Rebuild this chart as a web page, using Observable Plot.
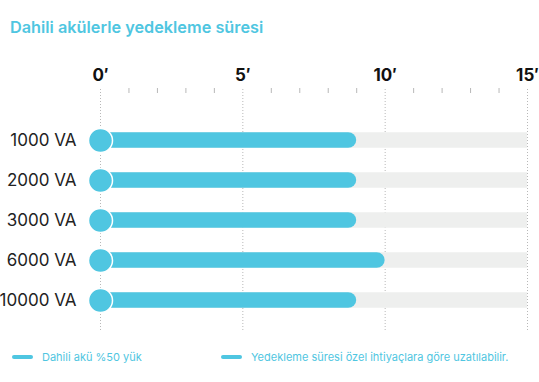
<!DOCTYPE html>
<html>
<head>
<meta charset="utf-8">
<script src="https://cdn.jsdelivr.net/npm/d3@7"></script>
<script src="https://cdn.jsdelivr.net/npm/@observablehq/plot@0.6"></script>
<style>
  body { margin: 0; background: #fff; font-family: Inter, "Open Sans", sans-serif; }
  #wrap { position: relative; width: 539px; height: 382px; overflow: hidden; }
  #title { height: 50px; box-sizing: border-box; padding: 17px 0 0 10px; font-size: 16.3px; font-weight: 600; color: #4fc6e1; line-height: 20px; }
  #legend { position: relative; height: 42px; font-size: 11px; color: #4fc6e1; }
  .item { position: absolute; top: 10px; display: flex; align-items: center; height: 14px; }
  .swatch { width: 21px; height: 4px; border-radius: 2px; background: #4fc6e1; margin-right: 9px; }
</style>
</head>
<body>
<div id="wrap">
  <div id="title">Dahili akülerle yedekleme süresi</div>
  <div id="chart"></div>
  <div id="legend"></div>
</div>
<script>
const categories = ["1000 VA", "2000 VA", "3000 VA", "6000 VA", "10000 VA"];
const durations = [9, 9, 9, 10, 9];
const maxDuration = 15;
const majorTicks = [0, 5, 10, 15];
const minorTicks = [1, 2, 3, 4, 6, 7, 8, 9, 11, 12, 13, 14];
const legendLabels = ["Dahili akü %50 yük", "Yedekleme süresi özel ihtiyaçlara göre uzatılabilir."];

const blue = "#4fc6e1";
const rows = categories.map((c, i) => ({ cat: c, value: durations[i], max: maxDuration }));

const H = 290, mTop = 68.5, mBottom = 19;
const bandInset = (((H - mTop - mBottom) / categories.length) - 16) / 2;

const chart = Plot.plot({
  width: 539,
  height: H,
  marginTop: mTop,
  marginBottom: mBottom,
  marginLeft: 100,
  marginRight: 12,
  style: { fontFamily: "Inter, 'Open Sans', sans-serif", background: "#fff" },
  x: { domain: [0, maxDuration] },
  y: { domain: categories, type: "band", padding: 0 },
  marks: [
    Plot.ruleX(majorTicks, { stroke: "#b8b8b8", strokeDasharray: "1,2", strokeWidth: 1, insetTop: -(mTop - 39), insetBottom: -10 }),
    Plot.ruleX(minorTicks, { stroke: "#b8b8b8", strokeWidth: 1, insetTop: -(mTop - 38), insetBottom: (H - mBottom - mTop) + (mTop - 43) }),
    Plot.barX(rows, { y: "cat", x1: 0, x2: "max", fill: "#eeefee", insetTop: bandInset, insetBottom: bandInset }),
    Plot.barX(rows, { y: "cat", x1: 0, x2: "value", fill: blue, rx: 8, insetTop: bandInset, insetBottom: bandInset }),
    Plot.dot(rows, { y: "cat", x: 0, r: 12, fill: blue, stroke: "#fff", strokeWidth: 1.5 }),
    Plot.text(majorTicks, { x: d => d, text: d => d + "′", frameAnchor: "top", dy: -(mTop - 25), lineAnchor: "middle", fontSize: 17, fontWeight: 700, fill: "#111" }),
    Plot.axisY({ tickSize: 0, tickPadding: 24, fontSize: 17, label: null, color: "#222" }),
    Plot.axisX({ ticks: [], label: null })
  ]
});
document.getElementById("chart").appendChild(chart);

const legend = document.getElementById("legend");
const lefts = [12, 221];
legendLabels.forEach((t, i) => {
  const it = document.createElement("div");
  it.className = "item";
  it.style.left = lefts[i] + "px";
  it.innerHTML = `<span class="swatch"></span><span>${t}</span>`;
  legend.appendChild(it);
});
</script>
</body>
</html>
